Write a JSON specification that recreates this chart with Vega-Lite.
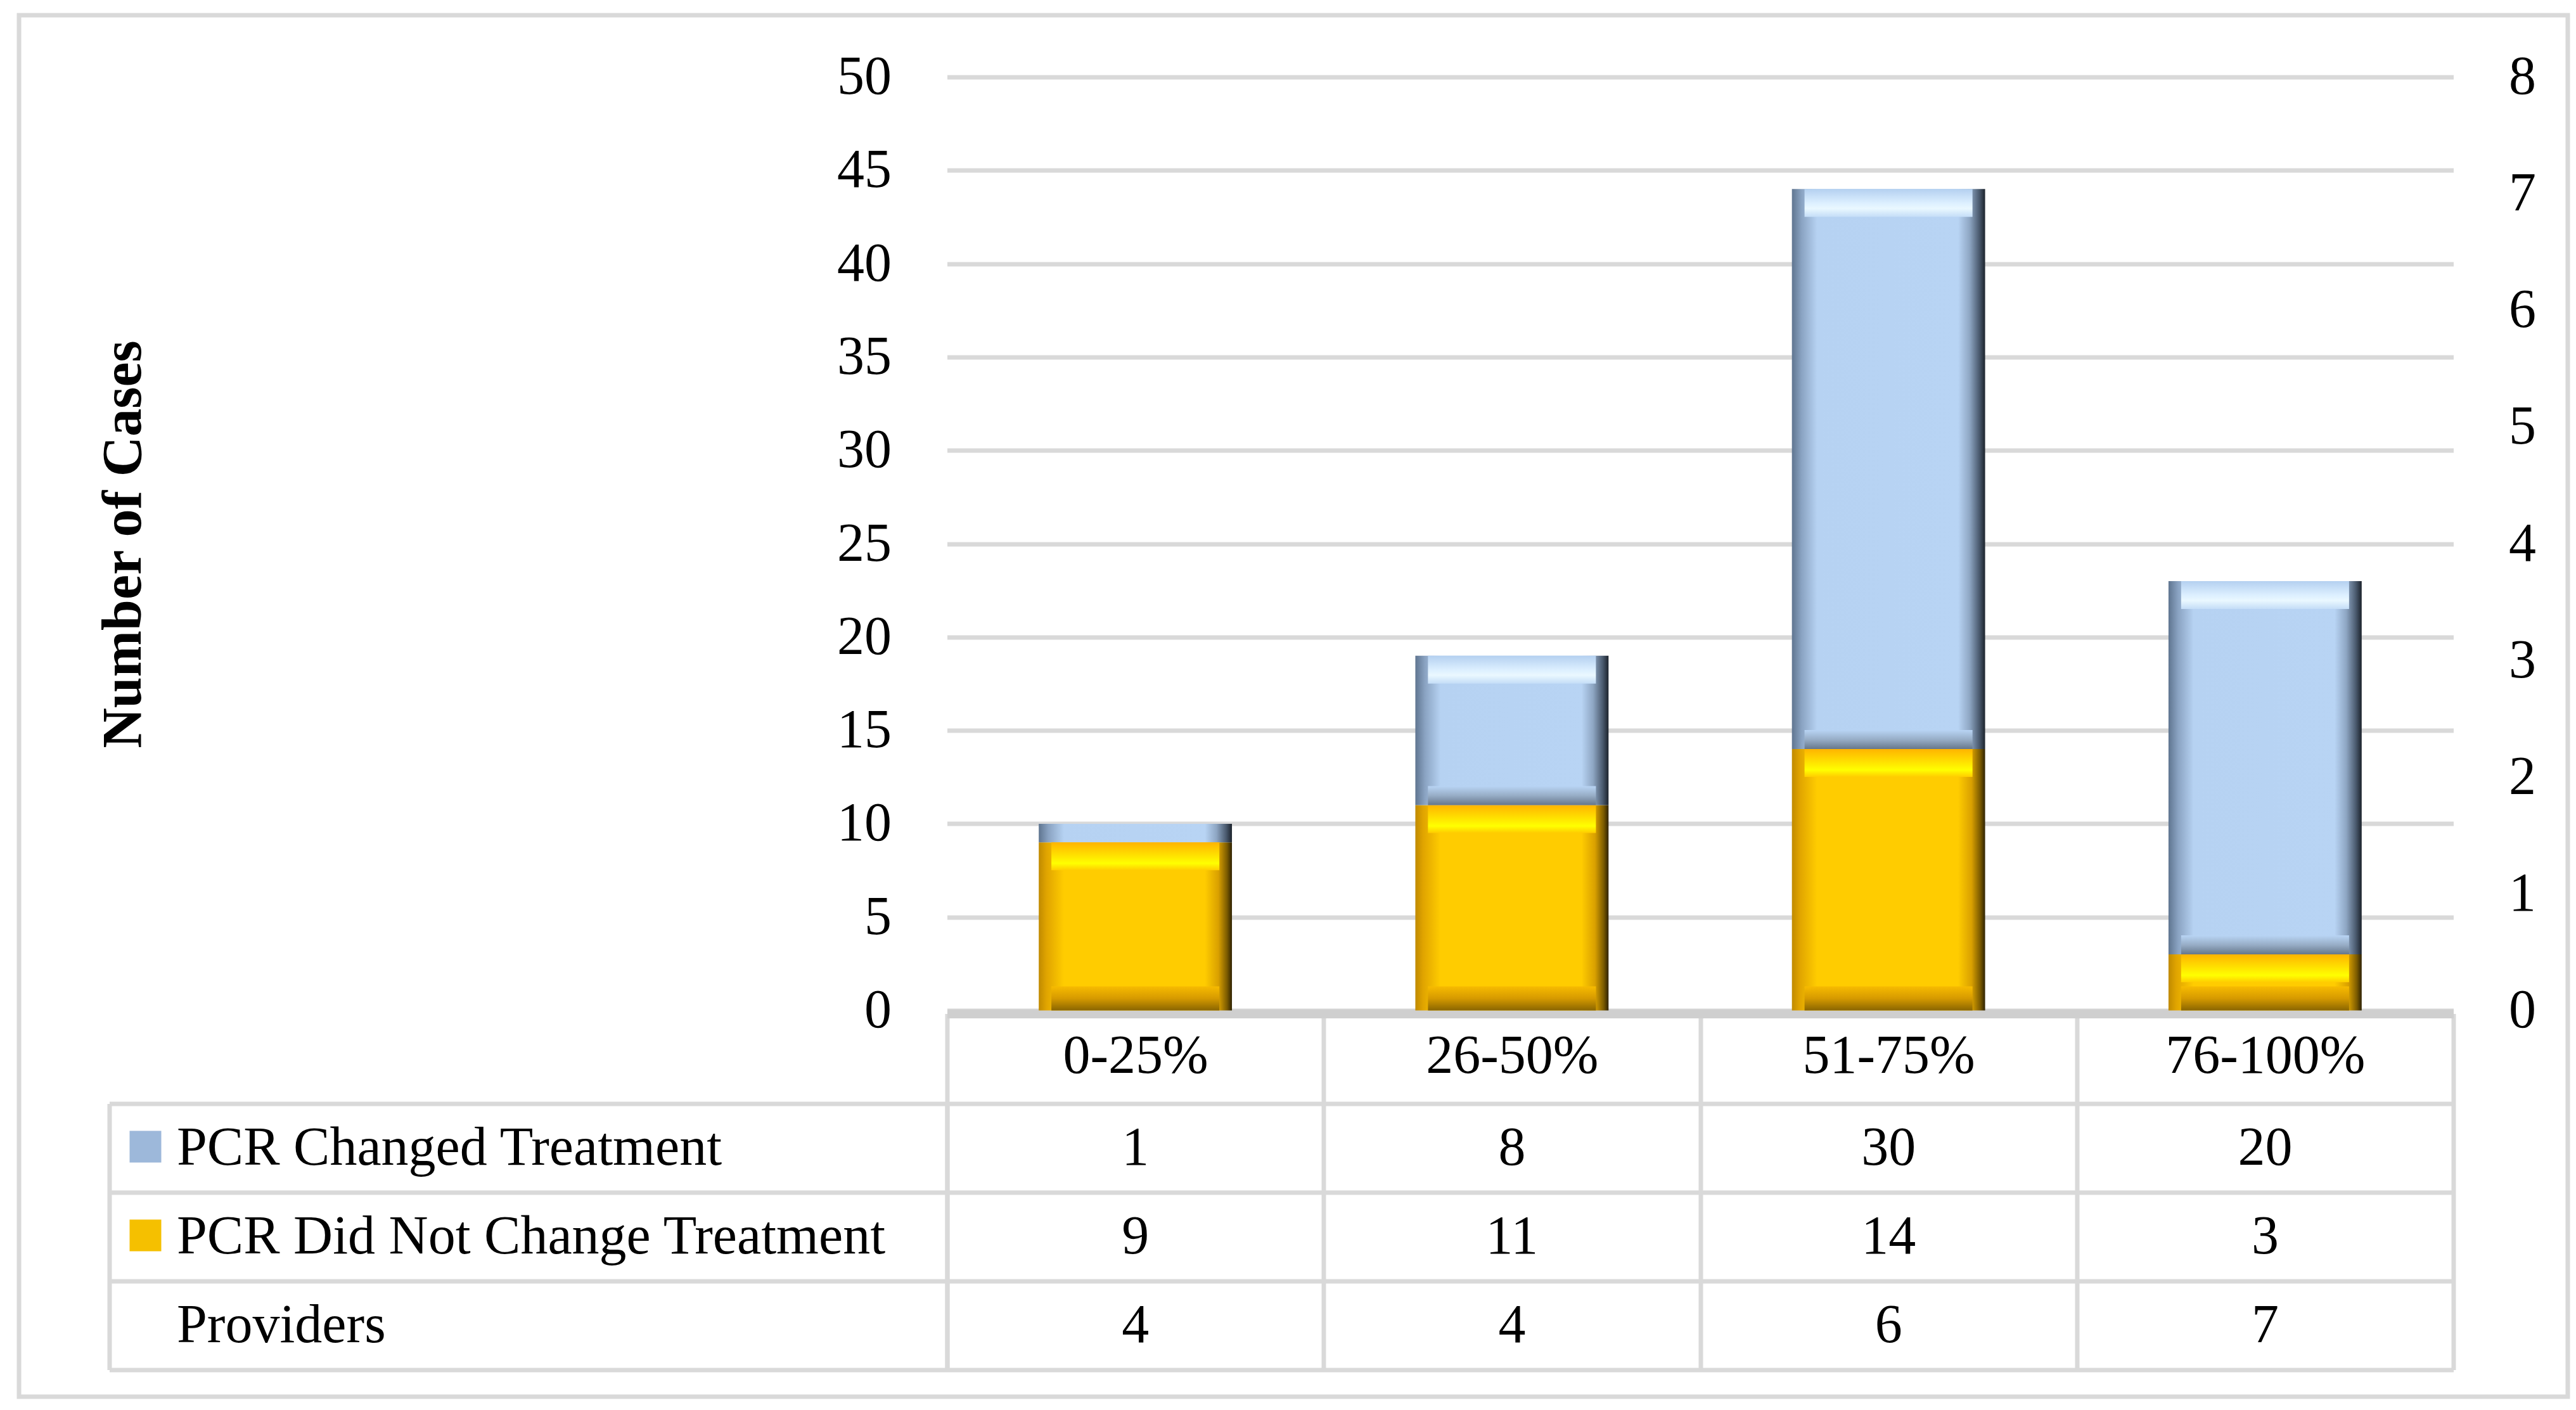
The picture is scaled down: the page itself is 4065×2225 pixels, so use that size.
{
  "$schema": "https://vega.github.io/schema/vega-lite/v6.json",
  "background": "white",
  "padding": {"left": 29.5, "top": 23.5, "right": 5, "bottom": 5},
  "config": {
    "font": "Liberation Serif",
    "view": {"stroke": null},
    "axis": {"labelFont": "Liberation Serif", "titleFont": "Liberation Serif", "labelColor": "#000000", "titleColor": "#000000"},
    "legend": {"labelFont": "Liberation Serif"}
  },
  "datasets": {
    "table": [
      {"cat": "0-25%", "row": "PCR Changed Treatment", "value": 1},
      {"cat": "26-50%", "row": "PCR Changed Treatment", "value": 8},
      {"cat": "51-75%", "row": "PCR Changed Treatment", "value": 30},
      {"cat": "76-100%", "row": "PCR Changed Treatment", "value": 20},
      {"cat": "0-25%", "row": "PCR Did Not Change Treatment", "value": 9},
      {"cat": "26-50%", "row": "PCR Did Not Change Treatment", "value": 11},
      {"cat": "51-75%", "row": "PCR Did Not Change Treatment", "value": 14},
      {"cat": "76-100%", "row": "PCR Did Not Change Treatment", "value": 3},
      {"cat": "0-25%", "row": "Providers", "value": 4},
      {"cat": "26-50%", "row": "Providers", "value": 4},
      {"cat": "51-75%", "row": "Providers", "value": 6},
      {"cat": "76-100%", "row": "Providers", "value": 7}
    ]
  },
  "bounds": "flush",
  "spacing": 147,
  "resolve": {"scale": {"x": "independent", "y": "independent"}},
  "vconcat": [
    {
      "width": 2377,
      "height": 1473,
      "data": {"name": "table"},
      "layer": [
        {
          "transform": [
            {"filter": "datum.row !== 'Providers'"},
            {"stack": "value", "groupby": ["cat"], "sort": [{"field": "row", "order": "descending"}], "as": ["v0", "v1"]}
          ],
          "encoding": {
            "x": {
              "field": "cat", "type": "nominal",
              "scale": {"paddingInner": 0, "paddingOuter": 0},
              "axis": {
                "title": null, "orient": "bottom", "offset": 5,
                "domainColor": "#cfcfcf", "domainWidth": 14, "domainCap": "butt",
                "ticks": true, "tickBand": "extent", "tickSize": 142, "tickColor": "#d9d9d9", "tickWidth": 7,
                "labelFontSize": 86, "labelBaseline": "middle", "labelPadding": -75, "labelAngle": 0, "labelLimit": 1000, "grid": false
              }
            },
            "y": {
              "field": "v1", "type": "quantitative",
              "scale": {"domain": [0, 50], "nice": false},
              "axis": {
                "title": "Number of Cases", "titleFontSize": 88, "titleFontWeight": "bold",
                "titleAngle": -90, "titleX": -1299, "titleY": 737, "titleAlign": "center", "titleBaseline": "middle",
                "values": [0, 5, 10, 15, 20, 25, 30, 35, 40, 45, 50],
                "grid": true, "gridColor": "#d9d9d9", "gridWidth": 7,
                "domain": false, "ticks": false,
                "labelFontSize": 86, "labelPadding": 88, "labelBaseline": "middle"
              }
            }
          },
          "layer": [
            {
              "transform": [{"filter": "datum.row === 'PCR Did Not Change Treatment'"}],
              "mark": {
                "type": "bar",
                "width": {"band": 0.513},
                "fill": {
                  "gradient": "linear", "x1": 0, "y1": 0, "x2": 1, "y2": 0,
                  "stops": [
                    {"offset": 0, "color": "#c08a00"},
                    {"offset": 0.04, "color": "#e0a400"},
                    {"offset": 0.13, "color": "#ffcc00"},
                    {"offset": 0.86, "color": "#ffcc00"},
                    {"offset": 0.93, "color": "#d9a000"},
                    {"offset": 0.975, "color": "#7a5a00"},
                    {"offset": 1, "color": "#2e2200"}
                  ]
                }
              },
              "encoding": {"y2": {"field": "v0"}}
            },
            {
              "transform": [{"filter": "datum.row === 'PCR Changed Treatment'"}],
              "mark": {
                "type": "bar",
                "width": {"band": 0.513},
                "fill": {
                  "gradient": "linear", "x1": 0, "y1": 0, "x2": 1, "y2": 0,
                  "stops": [
                    {"offset": 0, "color": "#5f7590"},
                    {"offset": 0.05, "color": "#8aa3c2"},
                    {"offset": 0.13, "color": "#b6d2f2"},
                    {"offset": 0.86, "color": "#b8d4f4"},
                    {"offset": 0.92, "color": "#8ea6c3"},
                    {"offset": 0.97, "color": "#4a5a6e"},
                    {"offset": 1, "color": "#1c232c"}
                  ]
                }
              },
              "encoding": {"y2": {"field": "v0"}}
            },
            {
              "transform": [{"filter": "datum.row === 'PCR Did Not Change Treatment'"}],
              "mark": {
                "type": "tick", "opacity": 1, "size": 265, "thickness": 44, "yOffset": 22,
                "fill": {
                  "gradient": "linear", "x1": 0, "y1": 0, "x2": 0, "y2": 1,
                  "stops": [
                    {"offset": 0, "color": "#ffb400"},
                    {"offset": 0.45, "color": "#ffe000"},
                    {"offset": 0.75, "color": "#ffff00"},
                    {"offset": 1, "color": "#ffcc00"}
                  ]
                }
              }
            },
            {
              "transform": [{"filter": "datum.row === 'PCR Did Not Change Treatment'"}],
              "mark": {
                "type": "tick", "opacity": 1, "size": 265, "thickness": 38, "yOffset": -19,
                "fill": {
                  "gradient": "linear", "x1": 0, "y1": 0, "x2": 0, "y2": 1,
                  "stops": [
                    {"offset": 0, "color": "#f7bb00"},
                    {"offset": 0.5, "color": "#d69a00"},
                    {"offset": 1, "color": "#8a6600"}
                  ]
                }
              },
              "encoding": {"y": {"field": "v0", "type": "quantitative"}}
            },
            {
              "transform": [{"filter": "datum.row === 'PCR Changed Treatment' && datum.value >= 2"}],
              "mark": {
                "type": "tick", "opacity": 1, "size": 265, "thickness": 44, "yOffset": 22,
                "fill": {
                  "gradient": "linear", "x1": 0, "y1": 0, "x2": 0, "y2": 1,
                  "stops": [
                    {"offset": 0, "color": "#b4d0f0"},
                    {"offset": 0.5, "color": "#dcefff"},
                    {"offset": 0.7, "color": "#eaf8ff"},
                    {"offset": 1, "color": "#c4ddf7"}
                  ]
                }
              }
            },
            {
              "transform": [{"filter": "datum.row === 'PCR Changed Treatment' && datum.value >= 2"}],
              "mark": {
                "type": "tick", "opacity": 1, "size": 265, "thickness": 30, "yOffset": -15,
                "fill": {
                  "gradient": "linear", "x1": 0, "y1": 0, "x2": 0, "y2": 1,
                  "stops": [
                    {"offset": 0, "color": "#b8d4f4"},
                    {"offset": 0.5, "color": "#97adc6"},
                    {"offset": 1, "color": "#66778b"}
                  ]
                }
              },
              "encoding": {"y": {"field": "v0", "type": "quantitative"}}
            }
          ]
        },
        {
          "transform": [{"filter": "datum.row === 'Providers'"}],
          "mark": {"type": "square", "size": 0},
          "encoding": {
            "x": {"field": "cat", "type": "nominal"},
            "y": {
              "field": "value", "type": "quantitative",
              "scale": {"domain": [0, 8], "nice": false},
              "axis": {
                "orient": "right", "title": null, "values": [0, 1, 2, 3, 4, 5, 6, 7, 8],
                "grid": false, "domain": false, "ticks": false,
                "labelFontSize": 86, "labelPadding": 87, "labelBaseline": "middle", "labelAlign": "left"
              }
            },
            "stroke": {
              "field": "value", "type": "quantitative",
              "scale": {"range": ["rgba(255,255,255,0)", "rgba(255,255,255,0)"]},
              "legend": {
                "type": "gradient", "orient": "none", "direction": "horizontal",
                "legendX": -1464.5, "legendY": -97.5, "title": null, "padding": 0,
                "gradientLength": 4022, "gradientThickness": 2180,
                "gradientOpacity": 1, "gradientStrokeColor": "#d9d9d9", "gradientStrokeWidth": 7,
                "labelOpacity": 0, "labelFontSize": 1, "labelOffset": 0
              }
            }
          }
        }
      ],
      "resolve": {"scale": {"y": "independent"}}
    },
    {
      "width": 2377,
      "height": 420,
      "data": {"name": "table"},
      "encoding": {
        "x": {
          "field": "cat", "type": "nominal",
          "scale": {"paddingInner": 0, "paddingOuter": 0},
          "axis": {
            "orient": "top", "title": null, "labels": false, "ticks": false, "domain": false,
            "grid": true, "tickBand": "extent", "gridColor": "#d9d9d9", "gridWidth": 7
          }
        },
        "y": {
          "field": "row", "type": "nominal",
          "sort": ["PCR Changed Treatment", "PCR Did Not Change Treatment", "Providers"],
          "scale": {"paddingInner": 0, "paddingOuter": 0}
        }
      },
      "layer": [
        {
          "mark": {"type": "text", "fontSize": 86, "baseline": "middle", "align": "center", "color": "#000000"},
          "encoding": {
            "text": {"field": "value", "type": "quantitative"},
            "y": {
              "field": "row", "type": "nominal",
              "sort": ["PCR Changed Treatment", "PCR Did Not Change Treatment", "Providers"],
              "axis": {
                "orient": "left", "title": null,
                "domain": true, "domainColor": "#d9d9d9", "domainWidth": 7,
                "ticks": true, "tickBand": "extent", "tickSize": 1322, "tickColor": "#d9d9d9", "tickWidth": 7,
                "grid": true, "gridColor": "#d9d9d9", "gridWidth": 7,
                "labelFontSize": 86, "labelAlign": "left", "labelBaseline": "middle", "labelPadding": -106, "labelLimit": 2000
              }
            }
          }
        },
        {
          "mark": {"type": "rect", "fillOpacity": 0, "strokeOpacity": 0},
          "encoding": {
            "y": {
              "field": "row", "type": "nominal",
              "sort": ["PCR Changed Treatment", "PCR Did Not Change Treatment", "Providers"],
              "axis": {
                "orient": "left", "offset": 1322, "title": null,
                "domain": true, "domainColor": "#d9d9d9", "domainWidth": 7,
                "ticks": false, "labels": false, "grid": false
              }
            },
            "color": {
              "field": "row", "type": "nominal",
              "scale": {"domain": ["PCR Changed Treatment", "PCR Did Not Change Treatment", "Providers"], "range": ["#9db8da", "#f5c000", "rgba(255,255,255,0)"]},
              "legend": {
                "orient": "none", "legendX": -1290, "legendY": 1663, "title": null,
                "symbolType": "square", "symbolSize": 2500, "symbolOpacity": 1, "symbolStrokeWidth": 0,
                "labelExpr": "''", "labelFontSize": 1, "labelOffset": 0, "rowPadding": 90, "padding": 0, "symbolOffset": 0
              }
            }
          }
        }
      ],
      "resolve": {"axis": {"y": "independent"}}
    }
  ]
}
